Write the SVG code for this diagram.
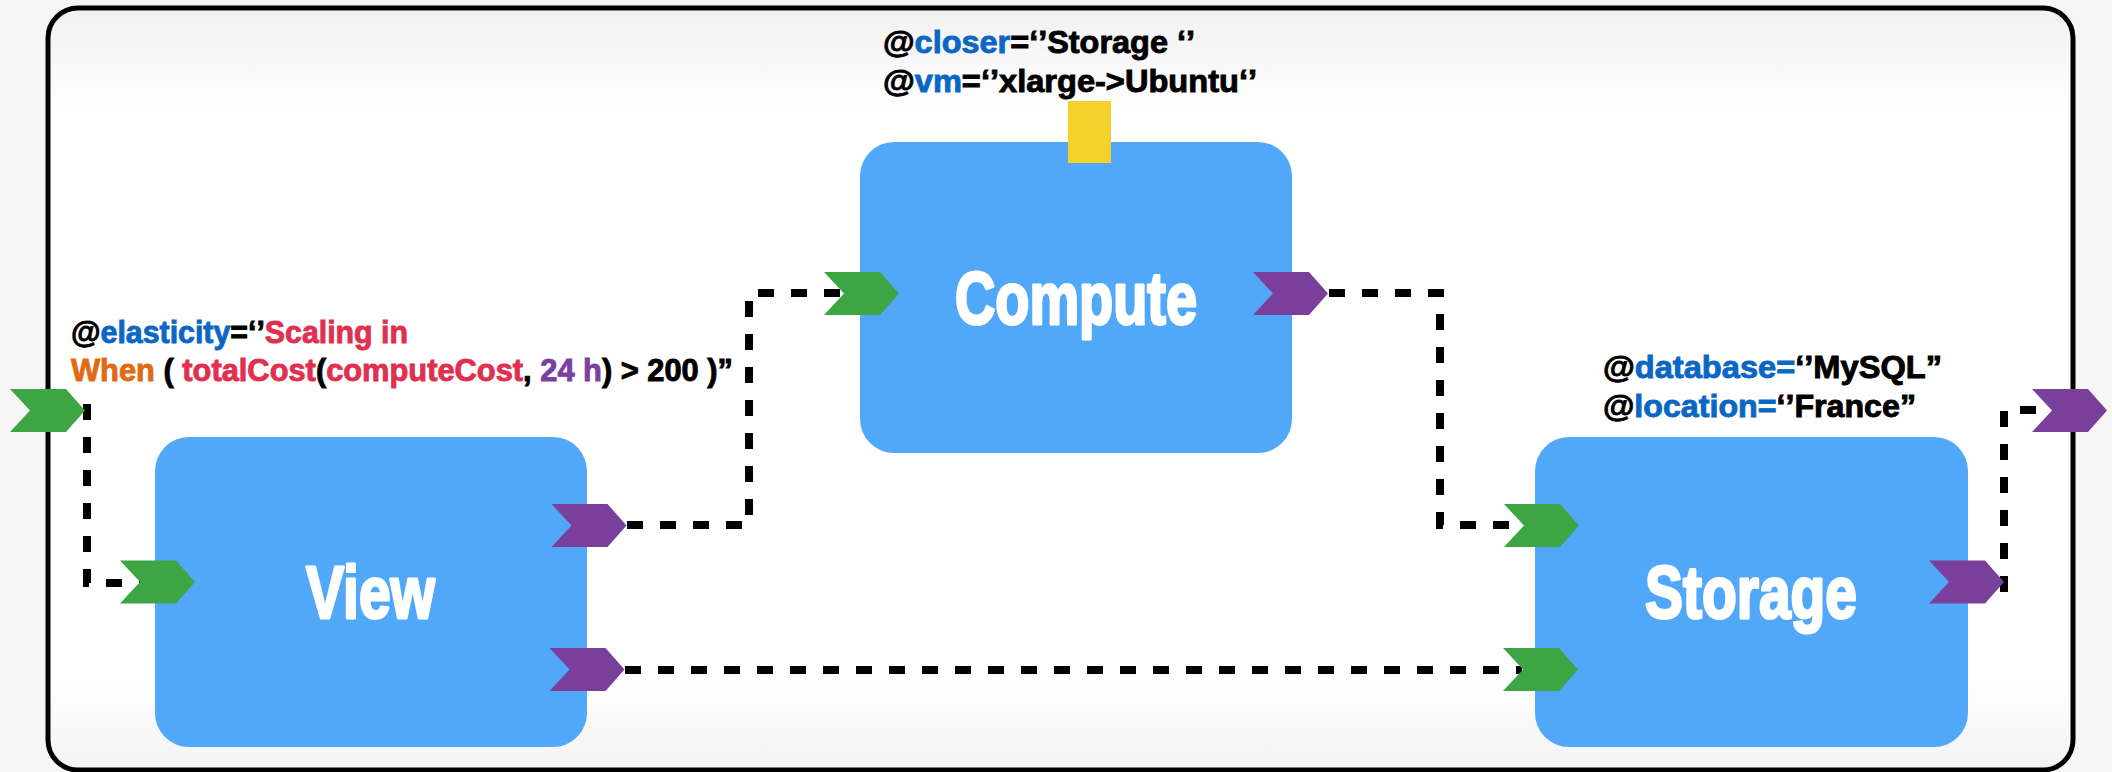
<svg xmlns="http://www.w3.org/2000/svg" width="2112" height="772" viewBox="0 0 2112 772">
  <defs>
    <linearGradient id="panelGrad" x1="0" y1="0" x2="0" y2="1">
      <stop offset="0" stop-color="#f1f1f1"/>
      <stop offset="0.14" stop-color="#ffffff"/>
      <stop offset="0.88" stop-color="#ffffff"/>
      <stop offset="1" stop-color="#f3f3f3"/>
    </linearGradient>
    <polygon id="chev" points="-38,-21.5 18,-21.5 37,0 18,21.5 -38,21.5 -18,0"/>
    <style>
      .bg { fill: #f6f6f6; }
      .panel { fill: url(#panelGrad); stroke: #000; stroke-width: 5; }
      .node { fill: #52a8f8; }
      .title { font-family: "Liberation Sans", Arial, sans-serif; font-weight: bold; font-size: 75px; fill: #ffffff; stroke: #ffffff; stroke-width: 3; stroke-linejoin: round; }
      .lbl { font-family: "Liberation Sans", Arial, sans-serif; font-weight: bold; font-size: 31px; fill: #000; stroke: #000; stroke-width: 0.9; }
      .blue { fill: #0a67c4; stroke: #0a67c4; }
      .red { fill: #e0304f; stroke: #e0304f; }
      .orange { fill: #e06a12; stroke: #e06a12; }
      .purple { fill: #7b3fa1; stroke: #7b3fa1; }
      .in { fill: #3ea545; }
      .out { fill: #7a3f9b; }
      .req { fill: #f5d22a; }
      .conn { fill: none; stroke: #000; stroke-width: 8; stroke-dasharray: 16 17; }
    </style>
  </defs>

  <rect class="bg" x="0" y="0" width="2112" height="772"/>
  <rect class="panel" x="48" y="8" width="2025" height="762" rx="30" ry="30"/>

  <g id="connectors">
    <path class="conn" d="M87,404 V583 H140"/>
    <path class="conn" d="M627,525 H749 V293 H843"/>
    <path class="conn" d="M1329,293 H1440 V525 H1525"/>
    <path class="conn" d="M625,670 H1522"/>
    <path class="conn" d="M2004,592 V410 H2050"/>
  </g>

  <g id="node-view">
    <rect class="node" x="155" y="437" width="432" height="310" rx="34" ry="34"/>
    <text class="title" x="306" y="618" textLength="129" lengthAdjust="spacingAndGlyphs">View</text>
    <use href="#chev" class="in" transform="translate(158,582)"/>
    <use href="#chev" class="out" transform="translate(589.5,525.5)"/>
    <use href="#chev" class="out" transform="translate(587.5,669.5)"/>
    <text class="lbl" x="71" y="343" textLength="337" lengthAdjust="spacingAndGlyphs">@<tspan class="blue">elasticity</tspan>=‘’<tspan class="red">Scaling in</tspan></text>
    <text class="lbl" x="71" y="381" textLength="662" lengthAdjust="spacingAndGlyphs"><tspan class="orange">When</tspan> ( <tspan class="red">totalCost</tspan>(<tspan class="red">computeCost</tspan>, <tspan class="purple">24 h</tspan>) &gt; 200 )”</text>
  </g>

  <g id="node-compute">
    <rect class="node" x="860" y="142" width="432" height="311" rx="34" ry="34"/>
    <rect class="req" x="1068" y="101" width="43" height="62"/>
    <text class="title" x="955" y="324" textLength="242" lengthAdjust="spacingAndGlyphs">Compute</text>
    <use href="#chev" class="in" transform="translate(862,293.5)"/>
    <use href="#chev" class="out" transform="translate(1291,293.5)"/>
    <text class="lbl" x="883" y="53" textLength="312" lengthAdjust="spacingAndGlyphs">@<tspan class="blue">closer</tspan>=‘’Storage ‘’</text>
    <text class="lbl" x="883" y="92" textLength="374" lengthAdjust="spacingAndGlyphs">@<tspan class="blue">vm</tspan>=‘’xlarge-&gt;Ubuntu‘’</text>
  </g>

  <g id="node-storage">
    <rect class="node" x="1535" y="437" width="433" height="310" rx="34" ry="34"/>
    <text class="title" x="1645" y="618" textLength="212" lengthAdjust="spacingAndGlyphs">Storage</text>
    <use href="#chev" class="in" transform="translate(1542,525.5)"/>
    <use href="#chev" class="in" transform="translate(1541,669.5)"/>
    <use href="#chev" class="out" transform="translate(1967,582)"/>
    <text class="lbl" x="1603" y="378" textLength="339" lengthAdjust="spacingAndGlyphs">@<tspan class="blue">database=</tspan>‘’MySQL”</text>
    <text class="lbl" x="1603" y="417" textLength="313" lengthAdjust="spacingAndGlyphs">@<tspan class="blue">location=</tspan>‘’France”</text>
  </g>

  <g id="port-in-external">
    <use href="#chev" class="in" transform="translate(48,410.5)"/>
  </g>
  <g id="port-out-external">
    <use href="#chev" class="out" transform="translate(2070,410.5)"/>
  </g>
</svg>
